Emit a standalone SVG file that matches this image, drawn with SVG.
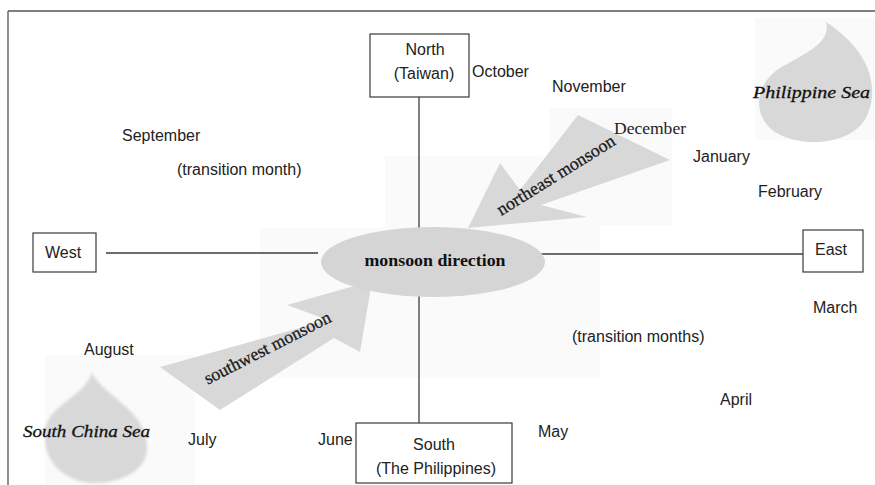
<svg xmlns="http://www.w3.org/2000/svg" width="875" height="485" viewBox="0 0 875 485">
  <defs>
    <style>
      .box { fill: #ffffff; stroke: #3a3a3a; stroke-width: 1.2; }
      .conn { stroke: #3c3c3c; stroke-width: 1.3; fill: none; }
      .lbl { font-family: "Liberation Sans", Arial, sans-serif; font-size: 16px; fill: #222; }
      .mid { text-anchor: middle; }
      .shape { fill: #d8d8d8; }
      .arrowtxt { font-family: "Liberation Serif", "Times New Roman", serif; font-size: 18px; fill: #1a1a1a; text-anchor: middle; stroke: #1a1a1a; stroke-width: 0.3; }
      .sea { font-family: "Liberation Serif", "Times New Roman", serif; font-size: 17px; font-style: italic; fill: #111; stroke: #111; stroke-width: 0.3; }
      .faint { fill: #fafafa; }
    </style>
    <filter id="soft" x="-10%" y="-10%" width="120%" height="120%">
      <feGaussianBlur stdDeviation="1.6"/>
    </filter>
  </defs>

  <rect width="875" height="485" fill="#ffffff"/>

  <!-- faint scan backgrounds -->
  <g id="background">
    <rect class="faint" x="385" y="156" width="215" height="72"/>
    <rect class="faint" x="260" y="228" width="340" height="150"/>
    <rect class="faint" x="550" y="108" width="122" height="117"/>
    <rect class="faint" x="45" y="355" width="150" height="130"/>
    <rect class="faint" x="755" y="18" width="120" height="122"/>
  </g>

  <!-- frame -->
  <g id="frame">
    <line x1="8" y1="11" x2="875" y2="11" stroke="#555" stroke-width="1.3"/>
    <line x1="8" y1="11" x2="8" y2="485" stroke="#555" stroke-width="1.3"/>
  </g>

  <!-- seas -->
  <g id="philippine-sea">
    <path class="shape" fill="#d3d3d3" d="M826 22 C832 45 800 55 777 70 C755 86 752 116 775 132 C800 148 850 146 866 118 C880 90 872 52 826 22 Z"/>
    <text class="sea" x="753" y="98" textLength="117" lengthAdjust="spacingAndGlyphs">Philippine Sea</text>
  </g>
  <g id="south-china-sea">
    <path class="shape" fill="#d9d9d9" filter="url(#soft)" d="M92 372 C100 395 150 410 147 450 C145 475 112 484 92 483 C62 481 42 460 45 430 C48 405 86 396 92 372 Z"/>
    <text class="sea" x="23" y="437" textLength="127" lengthAdjust="spacingAndGlyphs">South China Sea</text>
  </g>

  <!-- connectors -->
  <g id="connectors">
    <line class="conn" x1="419" y1="97" x2="419" y2="229"/>
    <line class="conn" x1="419" y1="296" x2="419" y2="423"/>
    <line class="conn" x1="106" y1="253" x2="318" y2="253"/>
    <line class="conn" x1="541" y1="254" x2="803" y2="254"/>
  </g>

  <!-- monsoon arrows -->
  <g id="northeast-monsoon">
    <polygon class="shape" points="468,228 500,163 520,190 578,115 670,160 541,205 587,217"/>
    <text class="arrowtxt" transform="translate(559,180) rotate(-32)" textLength="136" lengthAdjust="spacingAndGlyphs">northeast monsoon</text>
  </g>
  <g id="southwest-monsoon">
    <polygon class="shape" points="160,367 328,320 287,305 372,281 360,352 334,338 220,410"/>
    <text class="arrowtxt" transform="translate(270,353) rotate(-27)" textLength="140" lengthAdjust="spacingAndGlyphs">southwest monsoon</text>
  </g>

  <!-- center -->
  <g id="monsoon-direction">
    <ellipse cx="433" cy="262" rx="112" ry="35" fill="#d5d5d5"/>
    <text x="435" y="266" font-family="Liberation Serif, 'Times New Roman', serif" font-size="17.5" font-weight="bold" fill="#111" text-anchor="middle" textLength="141" lengthAdjust="spacingAndGlyphs">monsoon direction</text>
  </g>

  <!-- direction boxes -->
  <g id="north">
    <rect class="box" x="370" y="34" width="99" height="63"/>
    <text class="lbl mid" x="425" y="55">North</text>
    <text class="lbl mid" x="424" y="79">(Taiwan)</text>
  </g>
  <g id="south">
    <rect class="box" x="356" y="423" width="156" height="60"/>
    <text class="lbl mid" x="434" y="450">South</text>
    <text class="lbl mid" x="436" y="474">(The Philippines)</text>
  </g>
  <g id="west">
    <rect class="box" x="33" y="233" width="63" height="39"/>
    <text class="lbl" x="45" y="258">West</text>
  </g>
  <g id="east">
    <rect class="box" x="803" y="230" width="60" height="42"/>
    <text class="lbl" x="815" y="255">East</text>
  </g>

  <!-- month labels -->
  <g id="months">
    <text class="lbl" x="472" y="77">October</text>
    <text class="lbl" x="552" y="92">November</text>
    <text x="614" y="134" font-family="Liberation Serif, 'Times New Roman', serif" font-size="16" fill="#222" textLength="72" lengthAdjust="spacingAndGlyphs">December</text>
    <text class="lbl" x="693" y="162">January</text>
    <text class="lbl" x="758" y="197">February</text>
    <text class="lbl" x="813" y="313">March</text>
    <text class="lbl" x="572" y="342">(transition months)</text>
    <text class="lbl" x="720" y="405">April</text>
    <text class="lbl" x="538" y="437">May</text>
    <text class="lbl" x="318" y="445">June</text>
    <text class="lbl" x="188" y="445">July</text>
    <text class="lbl" x="84" y="355">August</text>
    <text class="lbl" x="122" y="141">September</text>
    <text class="lbl" x="177" y="175">(transition month)</text>
  </g>
</svg>
